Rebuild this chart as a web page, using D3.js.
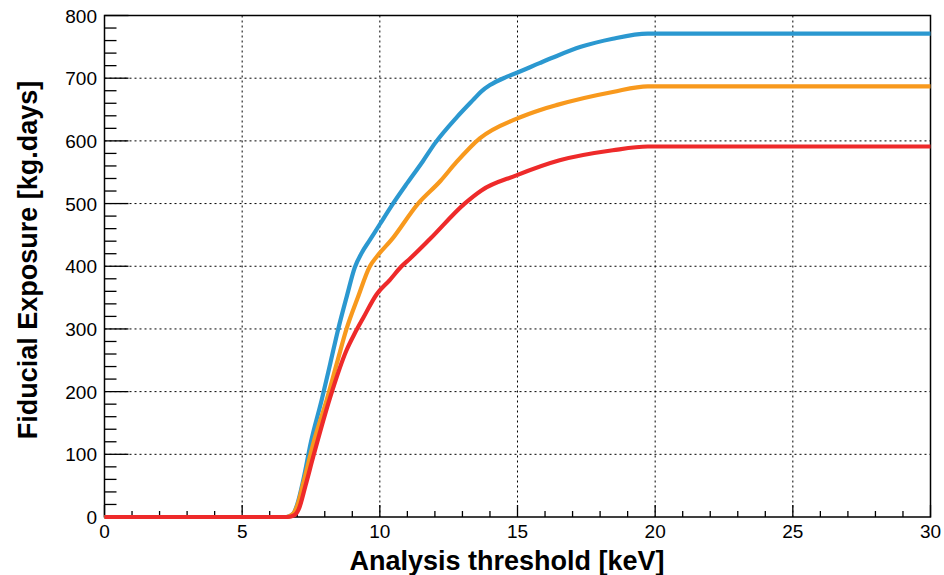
<!DOCTYPE html>
<html><head><meta charset="utf-8">
<script src="https://cdn.jsdelivr.net/npm/d3@7"></script>
<style>body{margin:0;background:#fff}svg{display:block}</style>
</head><body>
<svg id="c" width="944" height="575"></svg>
<script>
const blueX = [0,6.6,6.85,7.0,7.22,7.5,7.89,8.2,8.49,8.8,9.09,9.35,9.64,10,10.42,11,11.57,12,12.8,13.38,13.69,14.0,14.6,15,15.8,16.29,17.3,18.46,19.73,30];
const blueY = [0,0,5,20,59,120,187,245,300,352,398,422,442,467,496,533,568,596,638,665,679,689,702,709,724,733,750,763,771,771];
const orangeX = [0,6.6,6.85,7.0,7.22,7.6,8.07,8.45,8.79,9.2,9.64,9.9,10.42,11.39,12.2,12.78,13.63,15,15.8,16.41,18.46,19.73,30];
const orangeY = [0,0,5,18,54,120,187,247,300,350,400,416,442,500,536,566,604,636,649,657,678,687,687];
const redX = [0,6.65,6.9,7.05,7.3,7.58,8.19,8.79,9.09,9.39,9.88,10.36,10.79,11.09,11.81,13.08,13.69,14.96,16.53,18.46,19.73,30];
const redY = [0,0,3,12,50,96,190,266,293,317,355,378,400,412,443,500,521,545,569,585,591,591];
const seriesColors = ["#2b98d0","#f8991d","#ee2a2a"];
const xTicks = [0,5,10,15,20,25,30];
const yTicks = [0,100,200,300,400,500,600,700,800];
const xTitle = "Analysis threshold [keV]";
const yTitle = "Fiducial Exposure [kg.days]";

const svg = d3.select("#c");
const L=104.5, R=930.5, T=15.5, B=517;
const x = d3.scaleLinear().domain([0,30]).range([L,R]);
const y = d3.scaleLinear().domain([0,800]).range([B,T]);
const font = "'Liberation Sans', Arial, Helvetica, sans-serif";

// grid
const g = svg.append("g");
g.selectAll("line.gx").data(xTicks.filter(d=>d>0&&d<30)).join("line")
  .attr("x1",d=>x(d)).attr("x2",d=>x(d)).attr("y1",T).attr("y2",B)
  .attr("stroke","#000").attr("stroke-width",1).attr("stroke-dasharray","2,3");
g.selectAll("line.gy").data(yTicks.filter(d=>d>0&&d<800)).join("line")
  .attr("y1",d=>y(d)).attr("y2",d=>y(d)).attr("x1",L).attr("x2",R)
  .attr("stroke","#000").attr("stroke-width",1).attr("stroke-dasharray","2,3");

// ticks
const xMinor = d3.range(0,31,1);
svg.append("g").selectAll("line").data(xMinor).join("line")
  .attr("x1",d=>x(d)).attr("x2",d=>x(d)).attr("y1",B)
  .attr("y2",d=>B-(d%5===0?12:6)).attr("stroke","#000").attr("stroke-width",1.3);
const yMinor = d3.range(0,801,20);
svg.append("g").selectAll("line").data(yMinor).join("line")
  .attr("y1",d=>y(d)).attr("y2",d=>y(d)).attr("x1",L)
  .attr("x2",d=>L+(d%100===0?24:12)).attr("stroke","#000").attr("stroke-width",1.3);

// frame
svg.append("rect").attr("x",L).attr("y",T).attr("width",R-L).attr("height",B-T)
  .attr("fill","none").attr("stroke","#000").attr("stroke-width",1.5);

// curves
const line = d3.line().x(d=>x(d[0])).y(d=>y(d[1])).curve(d3.curveMonotoneX);
const series = [[blueX,blueY],[orangeX,orangeY],[redX,redY]];
series.forEach((s,i)=>{
  const pts = s[0].map((v,j)=>[v,s[1][j]]);
  svg.append("path").datum(pts).attr("d",line).attr("fill","none")
    .attr("stroke",seriesColors[i]).attr("stroke-width",4.2).attr("stroke-linejoin","round");
});

// tick labels
svg.append("g").selectAll("text").data(xTicks).join("text")
  .attr("x",d=>x(d)).attr("y",538).attr("text-anchor","middle")
  .attr("font-family",font).attr("font-size",19).text(d=>d);
svg.append("g").selectAll("text").data(yTicks).join("text")
  .attr("x",97).attr("y",d=>y(d)+7).attr("text-anchor","end")
  .attr("font-family",font).attr("font-size",19).text(d=>d);

// titles
svg.append("text").attr("x",507).attr("y",570).attr("text-anchor","middle")
  .attr("font-family",font).attr("font-weight","bold").attr("font-size",27).text(xTitle);
svg.append("text").attr("transform","translate(37,260) rotate(-90)").attr("text-anchor","middle")
  .attr("font-family",font).attr("font-weight","bold").attr("font-size",27).text(yTitle);
</script>
</body></html>
